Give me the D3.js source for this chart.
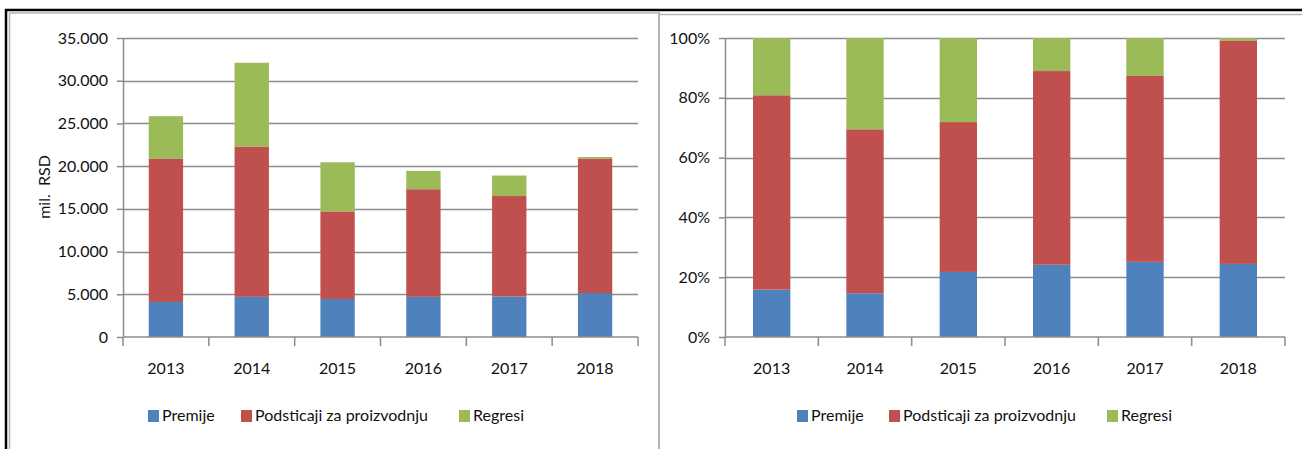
<!DOCTYPE html>
<html>
<head>
<meta charset="utf-8">
<script src="https://cdn.jsdelivr.net/npm/d3@7"></script>
<style>
  html, body { margin: 0; padding: 0; background: #fff; }
  svg { display: block; }
  text { font-family: Lato, "Open Sans", sans-serif; fill: #111; }
</style>
</head>
<body>
<svg id="chart" width="1302" height="449"></svg>
<script>
// ---- data ----
const years = ["2013", "2014", "2015", "2016", "2017", "2018"];
const seriesNames = ["Premije", "Podsticaji za proizvodnju", "Regresi"];
const premije    = [4100, 4700, 4450, 4700, 4750, 5150];
const podsticaji = [16800, 17600, 10250, 12600, 11750, 15750];
const regresi    = [4950, 9800, 5750, 2150, 2400, 170];
const leftTicks  = [0, 5000, 10000, 15000, 20000, 25000, 30000, 35000];
const rightTicks = [0, 0.2, 0.4, 0.6, 0.8, 1.0];
const yTitle = "mil.\u00a0\u00a0RSD";

const colors = ["#4F81BD", "#C0504D", "#9BBB59"];
const keys = ["premije", "podsticaji", "regresi"];
const rows = years.map((y, i) => ({ year: y, premije: premije[i], podsticaji: podsticaji[i], regresi: regresi[i] }));

const FS = 16;
const svg = d3.select("#chart");
svg.append("rect").attr("width", 1302).attr("height", 449).attr("fill", "#fff");

// frame
svg.append("line").attr("x1", 5).attr("x2", 1302).attr("y1", 10).attr("y2", 10).attr("stroke", "#000").attr("stroke-width", 2.5);
svg.append("line").attr("x1", 6).attr("x2", 6).attr("y1", 9).attr("y2", 449).attr("stroke", "#000").attr("stroke-width", 2.5);
svg.append("line").attr("x1", 9).attr("x2", 659).attr("y1", 13).attr("y2", 13).attr("stroke", "#b4b4b4").attr("stroke-width", 1.5);
svg.append("line").attr("x1", 9.5).attr("x2", 9.5).attr("y1", 13).attr("y2", 449).attr("stroke", "#b4b4b4").attr("stroke-width", 1.5);
svg.append("line").attr("x1", 659).attr("x2", 1302).attr("y1", 14.5).attr("y2", 14.5).attr("stroke", "#b4b4b4").attr("stroke-width", 1.5);
svg.append("line").attr("x1", 659).attr("x2", 659).attr("y1", 12).attr("y2", 449).attr("stroke", "#b4b4b4").attr("stroke-width", 2);

const fmtLocale = d3.formatLocale({ decimal: ",", thousands: ".", grouping: [3], currency: ["", ""] });

function panel(opts) {
  const { x0, x1, y0, y1, domainMax, ticks, fmt, offset, legendX } = opts;
  const g = svg.append("g");
  const x = d3.scaleBand().domain(years).range([x0, x1]).paddingInner(0.6).paddingOuter(0.3);
  const y = d3.scaleLinear().domain([0, domainMax]).range([y1, y0]);
  const step = x.step();

  // gridlines
  g.append("g").selectAll("line").data(ticks.filter(t => t > 0)).join("line")
    .attr("x1", x0).attr("x2", x1)
    .attr("y1", d => Math.round(y(d)) + 0.5).attr("y2", d => Math.round(y(d)) + 0.5)
    .attr("stroke", "#8c8c8c").attr("stroke-width", 1.5);

  // stacks
  const stack = d3.stack().keys(keys).offset(offset);
  const layers = stack(rows);
  g.append("g").selectAll("g").data(layers).join("g")
    .attr("fill", (d, i) => colors[i])
    .selectAll("rect").data(d => d).join("rect")
    .attr("x", d => x(d.data.year))
    .attr("width", x.bandwidth())
    .attr("y", d => y(d[1]))
    .attr("height", d => Math.max(0, y(d[0]) - y(d[1])));

  // y axis
  const ya = d3.axisLeft(y).tickValues(ticks).tickFormat(fmt).tickSizeInner(6).tickSizeOuter(0).tickPadding(9);
  const yg = g.append("g").attr("transform", `translate(${x0},0)`).call(ya);
  yg.select(".domain").attr("stroke", "#8c8c8c").attr("stroke-width", 1.5);
  yg.selectAll(".tick line").attr("stroke", "#8c8c8c").attr("stroke-width", 1.5);
  yg.selectAll(".tick text").attr("font-size", FS).attr("fill", "#111").style("font-family", "Lato, sans-serif");

  // x axis baseline and boundary ticks
  g.append("line").attr("x1", x0).attr("x2", x1).attr("y1", y(0)).attr("y2", y(0))
    .attr("stroke", "#8c8c8c").attr("stroke-width", 1.5);
  g.append("g").selectAll("line").data(d3.range(years.length + 1)).join("line")
    .attr("x1", i => x0 + i * step).attr("x2", i => x0 + i * step)
    .attr("y1", y(0)).attr("y2", y(0) + 9)
    .attr("stroke", "#8c8c8c").attr("stroke-width", 1.5);
  g.append("g").selectAll("text").data(years).join("text")
    .attr("x", d => x(d) + x.bandwidth() / 2).attr("y", 374)
    .attr("text-anchor", "middle").attr("font-size", FS).text(d => d);

  // legend
  const lg = g.append("g");
  seriesNames.forEach((name, i) => {
    lg.append("rect").attr("x", legendX[i]).attr("y", 410).attr("width", 11).attr("height", 12).attr("fill", colors[i]);
    lg.append("text").attr("x", legendX[i] + 14).attr("y", 421).attr("font-size", FS).text(name);
  });
  return { g, x, y };
}

panel({
  x0: 123, x1: 638, y0: 38, y1: 337, domainMax: 35000, ticks: leftTicks,
  fmt: fmtLocale.format(","), offset: d3.stackOffsetNone, legendX: [148, 241, 459]
});
panel({
  x0: 725, x1: 1285, y0: 38, y1: 337, domainMax: 1, ticks: rightTicks,
  fmt: d3.format(".0%"), offset: d3.stackOffsetExpand, legendX: [797, 889, 1107]
});

// y title
svg.append("text").attr("transform", "translate(50,187) rotate(-90)")
  .attr("text-anchor", "middle").attr("font-size", FS).text(yTitle);
</script>
</body>
</html>
